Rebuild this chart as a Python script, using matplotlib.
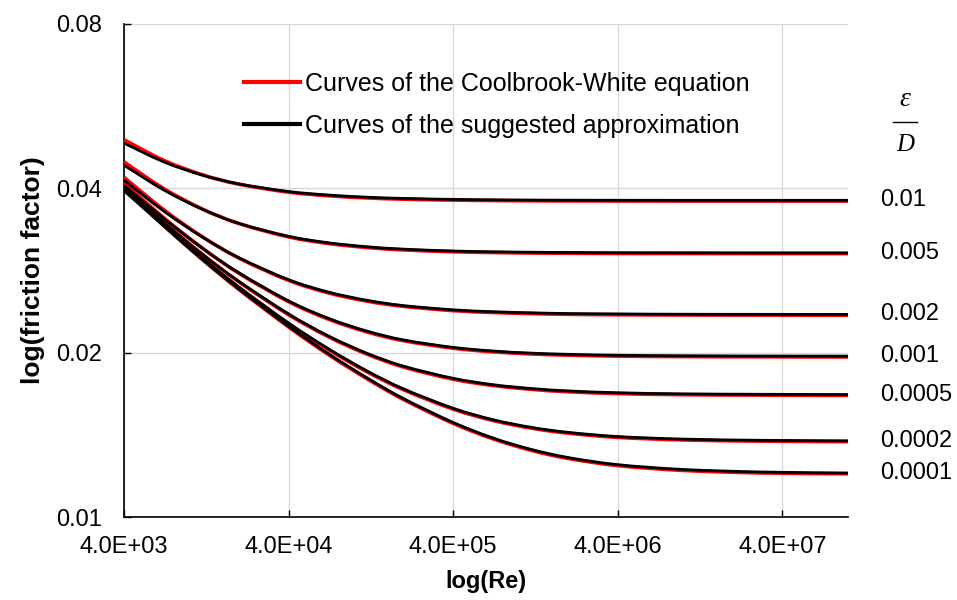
import numpy as np
import matplotlib
matplotlib.use("Agg")
import matplotlib.pyplot as plt
from matplotlib.lines import Line2D
from matplotlib.path import Path
from matplotlib.patches import PathPatch
from matplotlib.transforms import IdentityTransform

plt.rcParams['font.family'] = ['Liberation Sans', 'DejaVu Sans']

re = [4e3, 7e3, 1.2e4, 2e4, 4e4, 7e4, 1.2e5, 2e5, 4e5, 7e5, 1.2e6, 2e6, 4e6, 1e7, 3e7, 1e8]

# relative roughness labels (top to bottom)
rough_labels = ["0.01", "0.005", "0.002", "0.001", "0.0005", "0.0002", "0.0001"]

# Colebrook-White curves (red)
cw_001 = [0.0491, 0.04499, 0.04235, 0.04070, 0.03936, 0.03876, 0.03841, 0.03821, 0.03806, 0.03799, 0.03795, 0.03793, 0.03792, 0.03791, 0.03791, 0.03791]
cw_0005 = [0.04471, 0.03993, 0.03665, 0.03447, 0.03259, 0.03169, 0.03116, 0.03085, 0.03061, 0.03051, 0.03045, 0.03042, 0.03039, 0.03038, 0.03037, 0.03037]
cw_0002 = [0.04189, 0.03651, 0.03259, 0.02979, 0.02713, 0.02573, 0.02485, 0.02431, 0.02388, 0.02369, 0.02358, 0.02351, 0.02347, 0.02344, 0.02343, 0.02342]
cw_0001 = [0.04091, 0.03529, 0.03107, 0.02794, 0.02480, 0.02303, 0.02182, 0.02103, 0.02038, 0.02007, 0.01989, 0.01979, 0.01971, 0.01967, 0.01965, 0.01964]
cw_00005 = [0.04041, 0.03466, 0.03027, 0.02695, 0.02347, 0.02138, 0.01987, 0.01882, 0.01788, 0.01741, 0.01713, 0.01696, 0.01683, 0.01675, 0.01672, 0.01670]
cw_00002 = [0.04011, 0.03427, 0.02978, 0.02632, 0.02259, 0.02025, 0.01844, 0.01710, 0.01576, 0.01502, 0.01454, 0.01424, 0.01399, 0.01384, 0.01377, 0.01374]
cw_00001 = [0.04001, 0.03414, 0.02961, 0.02610, 0.02229, 0.01983, 0.01791, 0.01641, 0.01484, 0.01390, 0.01324, 0.01280, 0.01242, 0.01217, 0.01204, 0.01200]

# suggested approximation (black)
ap_001 = [0.0484, 0.0447, 0.04228, 0.04075, 0.03946, 0.03888, 0.03853, 0.03833, 0.03818, 0.03811, 0.03807, 0.03805, 0.03804, 0.03803, 0.03803, 0.03803]
ap_0005 = [0.0441, 0.0397, 0.03660, 0.03450, 0.03267, 0.03179, 0.03126, 0.03095, 0.03071, 0.03061, 0.03055, 0.03052, 0.03049, 0.03048, 0.03047, 0.03047]
ap_0002 = [0.0414, 0.0363, 0.03256, 0.02984, 0.02721, 0.02582, 0.02494, 0.02439, 0.02396, 0.02377, 0.02366, 0.02359, 0.02355, 0.02352, 0.02351, 0.02350]
ap_0001 = [0.0405, 0.0352, 0.03105, 0.02800, 0.02488, 0.02311, 0.02190, 0.02110, 0.02045, 0.02014, 0.01996, 0.01986, 0.01978, 0.01974, 0.01972, 0.01971]
ap_00005 = [0.0400, 0.0346, 0.03026, 0.02700, 0.02355, 0.02145, 0.01994, 0.01889, 0.01795, 0.01747, 0.01719, 0.01702, 0.01689, 0.01681, 0.01678, 0.01676]
ap_00002 = [0.0397, 0.0342, 0.02978, 0.02636, 0.02266, 0.02032, 0.01851, 0.01716, 0.01582, 0.01507, 0.01459, 0.01429, 0.01404, 0.01389, 0.01382, 0.01379]
ap_00001 = [0.0396, 0.0341, 0.02960, 0.02614, 0.02236, 0.01990, 0.01798, 0.01647, 0.01490, 0.01395, 0.01329, 0.01285, 0.01247, 0.01222, 0.01209, 0.01204]

cw_curves = [cw_001, cw_0005, cw_0002, cw_0001, cw_00005, cw_00002, cw_00001]
ap_curves = [ap_001, ap_0005, ap_0002, ap_0001, ap_00005, ap_00002, ap_00001]

x_ticks = [4e3, 4e4, 4e5, 4e6, 4e7]
x_ticklabels = ["4.0E+03", "4.0E+04", "4.0E+05", "4.0E+06", "4.0E+07"]
y_ticks = [0.01, 0.02, 0.04, 0.08]
y_ticklabels = ["0.01", "0.02", "0.04", "0.08"]

fig = plt.figure(figsize=(9.57, 6.0), dpi=100)
ax = fig.add_axes([124 / 957, 1 - 517 / 600, (848 - 124) / 957, (517 - 24) / 600])

ax.set_xscale("log")
ax.set_yscale("log")
ax.set_xlim(4e3, 1e8)
ax.set_ylim(0.01, 0.08)


def smooth_line(xs, ys, **kw):
    # Excel-style smoothed line: Catmull-Rom bezier through the points in display space
    pts = ax.transData.transform(np.column_stack([xs, ys]))
    n = len(pts)
    verts = [pts[0]]
    codes = [Path.MOVETO]
    for i in range(n - 1):
        p0 = pts[i - 1] if i > 0 else pts[i]
        p1, p2 = pts[i], pts[i + 1]
        p3 = pts[i + 2] if i + 2 < n else pts[i + 1]
        verts += [p1 + (p2 - p0) / 6, p2 - (p3 - p1) / 6, p2]
        codes += [Path.CURVE4] * 3
    patch = PathPatch(Path(verts, codes), fill=False, transform=IdentityTransform(),
                      capstyle="butt", joinstyle="round", **kw)
    ax.add_patch(patch)


for cw, ap in zip(cw_curves, ap_curves):
    smooth_line(re, cw, edgecolor="#ff0000", lw=2.6, zorder=3)
    smooth_line(re, ap, edgecolor="black", lw=2.0, zorder=4)

ax.set_xticks(x_ticks)
ax.set_xticklabels(x_ticklabels)
ax.set_yticks(y_ticks)
ax.set_yticklabels(y_ticklabels)
ax.minorticks_off()
ax.tick_params(direction="in", length=5, width=1, labelsize=17)
ax.tick_params(axis="x", pad=14)
ax.tick_params(axis="y", pad=16)
ax.grid(True, color="#d9d9d9", lw=1)
ax.set_axisbelow(True)
for s in ["top", "right"]:
    ax.spines[s].set_visible(False)
for s in ["left", "bottom"]:
    ax.spines[s].set_linewidth(1.2)

ax.set_xlabel("log(Re)", fontsize=17, fontweight="bold", labelpad=8)
ax.set_ylabel("log(friction factor)", fontsize=19, fontweight="bold", labelpad=8)

handles = [Line2D([], [], color="#ff0000", lw=3),
           Line2D([], [], color="black", lw=3)]
ax.legend(handles, ["Curves of the Coolbrook-White equation",
                    "Curves of the suggested approximation"],
          loc="upper left", bbox_to_anchor=(244 / 957, 1 - 72 / 600),
          bbox_transform=fig.transFigure, frameon=False, borderpad=0,
          borderaxespad=0, fontsize=18, handlelength=2.25,
          handletextpad=0.2, labelspacing=0.72)

# roughness labels on the right
for lab, ap in zip(rough_labels, ap_curves):
    ax.annotate(lab, xy=(1.0, ap[-1]), xycoords=("axes fraction", "data"),
                xytext=(23, 0), textcoords="offset points", fontsize=17,
                va="center", ha="left", annotation_clip=False)

fig.text(905 / 957, 1 - 100 / 600, "ε", fontsize=20, family="Liberation Serif",
         style="italic", ha="center", va="center")
fig.add_artist(Line2D([893 / 957, 917 / 957], [1 - 122 / 600, 1 - 122 / 600], color="black", lw=1))
fig.text(905 / 957, 1 - 145 / 600, "D", fontsize=18, family="Liberation Serif",
         style="italic", ha="center", va="center")

fig.savefig("out.png", dpi=100)
